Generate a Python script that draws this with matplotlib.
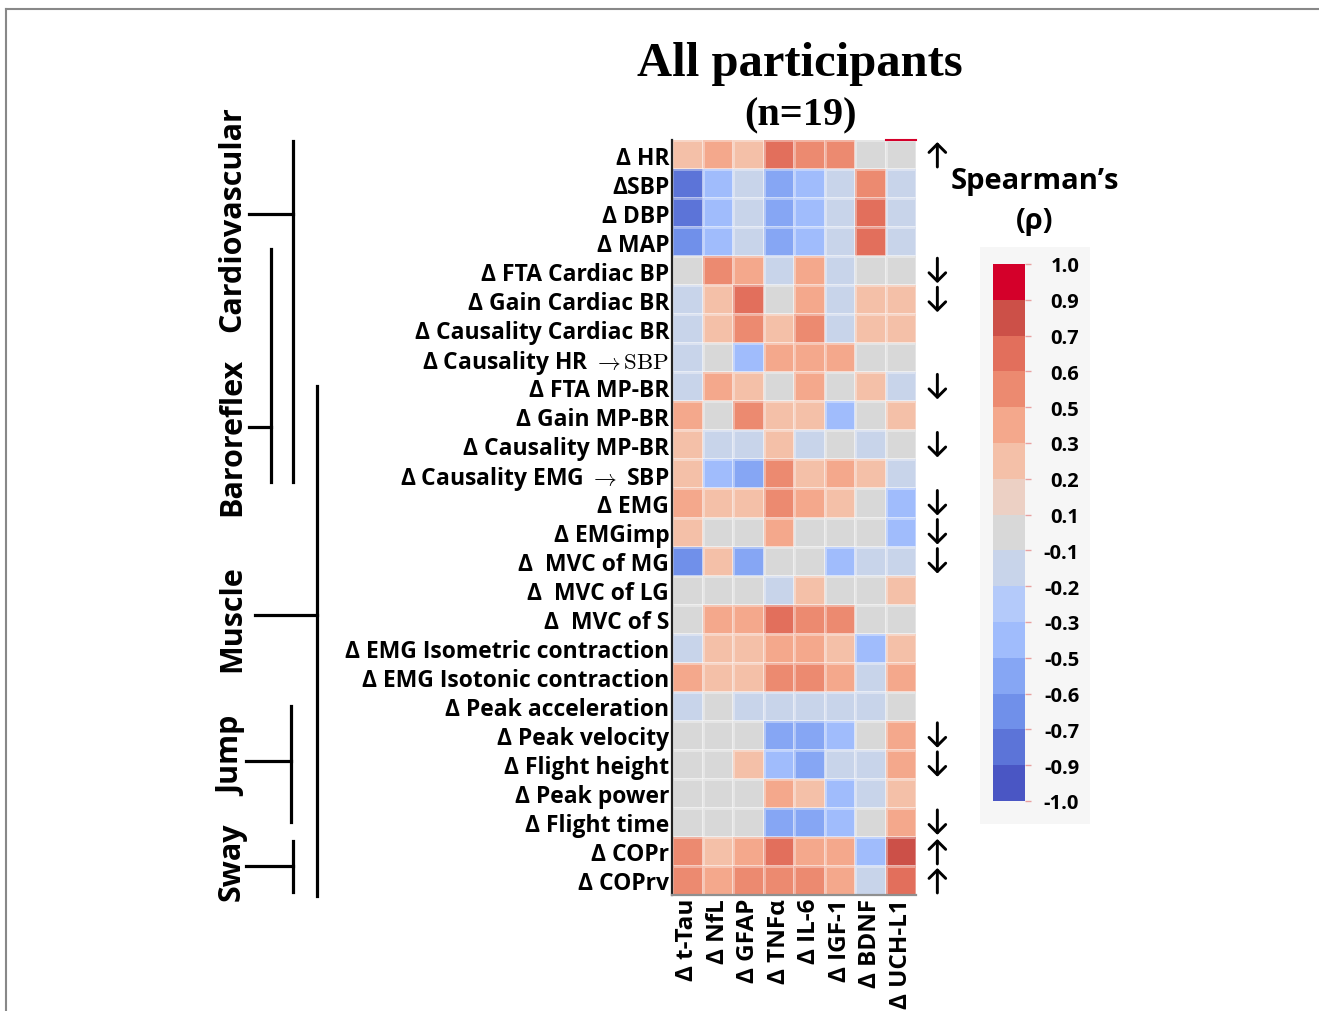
import numpy as np
import matplotlib
matplotlib.use("Agg")
import matplotlib.pyplot as plt
from matplotlib.colors import ListedColormap, BoundaryNorm
from matplotlib.lines import Line2D
from matplotlib.patches import Rectangle
import matplotlib.colorbar as mcolorbar

plt.rcParams['font.family'] = ['Open Sans', 'DejaVu Sans']
plt.rcParams['mathtext.fontset'] = 'cm'

W, H = 1319, 1012

# ── data ──────────────────────────────────────────────────────────────────────
col_labels = ["Δ t-Tau", "Δ NfL", "Δ GFAP", "Δ TNFα", "Δ IL-6", "Δ IGF-1", "Δ BDNF", "Δ UCH-L1"]

row_labels = [
    "Δ HR", "ΔSBP", "Δ DBP", "Δ MAP", "Δ FTA Cardiac BP", "Δ Gain Cardiac BR",
    "Δ Causality Cardiac BR", r"Δ Causality HR $\rightarrow \mathrm{SBP}$", "Δ FTA MP-BR",
    "Δ Gain MP-BR", "Δ Causality MP-BR", r"Δ Causality EMG $\rightarrow$ SBP", "Δ EMG",
    "Δ EMGimp", "Δ  MVC of MG", "Δ  MVC of LG", "Δ  MVC of S",
    "Δ EMG Isometric contraction", "Δ EMG Isotonic contraction", "Δ Peak acceleration",
    "Δ Peak velocity", "Δ Flight height", "Δ Peak power", "Δ Flight time",
    "Δ COPr", "Δ COPrv",
]

# spearman rho per row (columns follow col_labels)
rho = [
    [0.25, 0.40, 0.25, 0.65, 0.55, 0.55, 0.00, 0.00],
    [-0.75, -0.40, -0.15, -0.55, -0.40, -0.15, 0.55, -0.15],
    [-0.75, -0.40, -0.15, -0.55, -0.40, -0.15, 0.65, -0.15],
    [-0.65, -0.40, -0.15, -0.55, -0.40, -0.15, 0.65, -0.15],
    [0.00, 0.55, 0.40, -0.15, 0.40, -0.15, 0.00, 0.00],
    [-0.15, 0.25, 0.65, 0.00, 0.40, -0.15, 0.25, 0.25],
    [-0.15, 0.25, 0.55, 0.25, 0.55, -0.15, 0.25, 0.25],
    [-0.15, 0.00, -0.40, 0.40, 0.40, 0.40, 0.00, 0.00],
    [-0.15, 0.40, 0.25, 0.00, 0.40, 0.00, 0.25, -0.15],
    [0.40, 0.00, 0.55, 0.25, 0.25, -0.40, 0.00, 0.25],
    [0.25, -0.15, -0.15, 0.25, -0.15, 0.00, -0.15, 0.00],
    [0.25, -0.40, -0.55, 0.55, 0.25, 0.40, 0.25, -0.15],
    [0.40, 0.25, 0.25, 0.55, 0.40, 0.25, 0.00, -0.40],
    [0.25, 0.00, 0.00, 0.40, 0.00, 0.00, 0.00, -0.40],
    [-0.65, 0.25, -0.55, 0.00, 0.00, -0.40, -0.15, -0.15],
    [0.00, 0.00, 0.00, -0.15, 0.25, 0.00, 0.00, 0.25],
    [0.00, 0.40, 0.40, 0.65, 0.55, 0.55, 0.00, 0.00],
    [-0.15, 0.25, 0.25, 0.40, 0.40, 0.25, -0.40, 0.25],
    [0.40, 0.25, 0.25, 0.55, 0.55, 0.40, -0.15, 0.40],
    [-0.15, 0.00, -0.15, -0.15, -0.15, -0.15, -0.15, 0.00],
    [0.00, 0.00, 0.00, -0.55, -0.55, -0.40, 0.00, 0.40],
    [0.00, 0.00, 0.25, -0.40, -0.55, -0.15, -0.15, 0.40],
    [0.00, 0.00, 0.00, 0.40, 0.25, -0.40, -0.15, 0.25],
    [0.00, 0.00, 0.00, -0.55, -0.55, -0.40, 0.00, 0.40],
    [0.55, 0.25, 0.40, 0.65, 0.40, 0.40, -0.40, 0.80],
    [0.55, 0.40, 0.55, 0.55, 0.55, 0.40, -0.15, 0.65],
]

# direction arrows right of the heatmap (row index -> +1 up / -1 down)
arrows = {0: 1, 4: -1, 5: -1, 8: -1, 10: -1, 12: -1, 13: -1, 14: -1,
          20: -1, 21: -1, 23: -1, 24: 1, 25: 1}

bounds = [-1.0, -0.9, -0.7, -0.6, -0.5, -0.3, -0.2, -0.1, 0.1, 0.2, 0.3, 0.5, 0.6, 0.7, 0.9, 1.0]
bin_colors = ["#4a56c4", "#5c74d8", "#7090ea", "#86a6f4", "#a0bcfc", "#b4cafa", "#c8d4ea",
              "#d8d8d8", "#ecd0c4", "#f4c0a8", "#f4a88c", "#ec8a70", "#e26f5c", "#cc5048", "#d4002a"]

groups = ["Cardiovascular", "Baroreflex", "Muscle", "Jump", "Sway"]
group_y = [219, 437, 619, 756, 862]

cmap = ListedColormap(bin_colors)
norm = BoundaryNorm(bounds, cmap.N)


def fx(x):
    return x / W


def fy(y):
    return 1 - y / H


fig = plt.figure(figsize=(W / 100, H / 100), dpi=100)

# ── heatmap ───────────────────────────────────────────────────────────────────
ax = fig.add_axes([fx(672), fy(896), fx(916) - fx(672), fy(141) - fy(896)])
Z = np.array(rho)
ax.pcolormesh(Z, cmap=cmap, norm=norm, edgecolors=(1, 1, 1, 0.35), linewidth=0.8)
ax.set_xlim(0, Z.shape[1])
ax.set_ylim(Z.shape[0], 0)
ax.set_yticks(np.arange(Z.shape[0]) + 0.5)
ax.set_yticklabels(row_labels, fontsize=16.5, fontweight='bold')
ax.set_xticks(np.arange(Z.shape[1]) + 0.5)
ax.set_xticklabels(col_labels, fontsize=17.5, fontweight='bold', rotation=90)
ax.tick_params(length=0, pad=2)
for s in ['top', 'right']:
    ax.spines[s].set_visible(False)
ax.spines['left'].set_color('#222222')
ax.spines['left'].set_linewidth(1.6)
ax.spines['bottom'].set_color('#909090')
ax.spines['bottom'].set_linewidth(1.6)
ax.axhline(0, xmin=7 / 8, xmax=1, color='#d4002a', lw=1.5, clip_on=False)

for r, d in arrows.items():
    y_tail = r + 0.5 + 0.43 * d
    y_head = r + 0.5 - 0.43 * d
    ax.annotate("", xy=(Z.shape[1] + 0.7, y_head), xytext=(Z.shape[1] + 0.7, y_tail),
                annotation_clip=False,
                arrowprops=dict(arrowstyle="->,head_length=0.6,head_width=0.6", lw=2.1,
                                color='black', shrinkA=0, shrinkB=0))

# ── titles ────────────────────────────────────────────────────────────────────
fig.text(fx(800), fy(64), "All participants", family=['Liberation Serif'], fontsize=35,
         fontweight='bold', ha='center', va='center')
fig.text(fx(800), fy(116), "(n=19)", family=['Liberation Serif'], fontsize=29,
         fontweight='bold', ha='center', va='center')
fig.text(fx(1035), fy(182), "Spearman’s", fontsize=21, fontweight='bold', ha='center', va='center')
fig.text(fx(1035), fy(222), "(ρ)", fontsize=21, fontweight='bold', ha='center', va='center')

# ── colorbar ──────────────────────────────────────────────────────────────────
fig.patches.append(Rectangle((fx(980), fy(825)), fx(1090) - fx(980), fy(248) - fy(825),
                             transform=fig.transFigure, facecolor='#f6f6f6', edgecolor='none', zorder=-5))
cax = fig.add_axes([fx(993), fy(802), fx(1025) - fx(993), fy(265) - fy(802)])
cax.set_zorder(5)
cb = mcolorbar.ColorbarBase(cax, cmap=cmap, norm=norm, boundaries=bounds, ticks=bounds,
                            spacing='uniform', orientation='vertical')
cb.outline.set_visible(False)
cb.ax.set_yticklabels([f"{b:.1f}" for b in bounds])
cax.tick_params(length=4, width=1, color='#e8a0a0', pad=35, labelsize=14.5)
for t in cax.get_yticklabels():
    t.set_horizontalalignment('right')
    t.set_fontweight('bold')

# ── group brackets ────────────────────────────────────────────────────────────
brackets = [
    # (vertical x, y0, y1, tick y, tick x0)
    (292.7, 142, 483, 215, 249),
    (271, 250, 483, 428, 249),
    (316.7, 387, 897, 616, 255),
    (290.7, 707, 823, 762, 246),
    (292.7, 842, 893, 867, 246),
]
for vx, y0, y1, ty, tx0 in brackets:
    fig.add_artist(Line2D([fx(vx), fx(vx)], [fy(y0), fy(y1)], color='black', lw=2.3))
    fig.add_artist(Line2D([fx(tx0), fx(vx)], [fy(ty), fy(ty)], color='black', lw=2.3))

for g, gy in zip(groups, group_y):
    fig.text(fx(232), fy(gy), g, rotation=90, fontsize=22, fontweight='bold', ha='center', va='center')

# ── frame ─────────────────────────────────────────────────────────────────────
fig.add_artist(Line2D([fx(6), 1], [fy(10), fy(10)], color='#888888', lw=1.5))
fig.add_artist(Line2D([fx(6), fx(6)], [fy(10), 0], color='#888888', lw=1.5))

fig.savefig("out.png", dpi=100)
